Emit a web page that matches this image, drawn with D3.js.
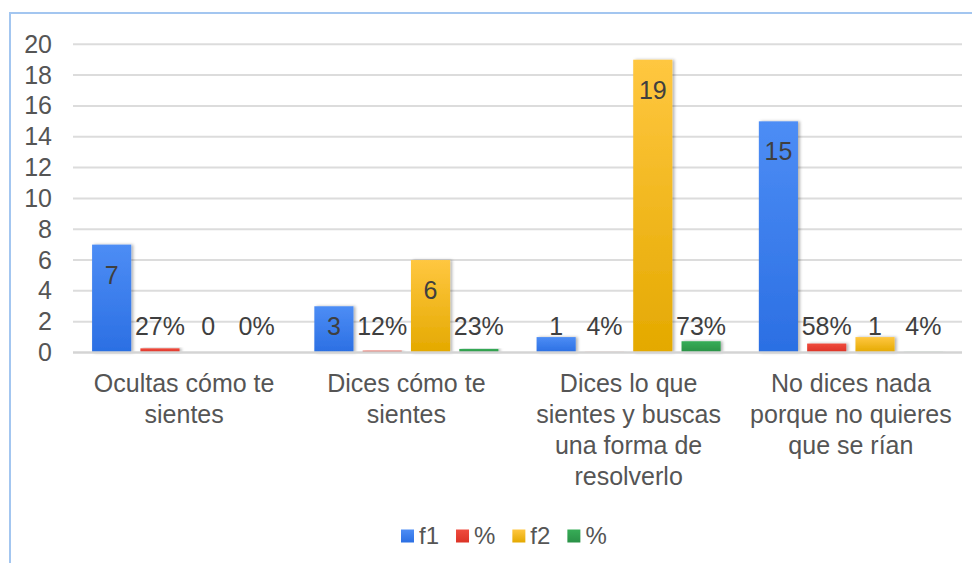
<!DOCTYPE html>
<html>
<head>
<meta charset="utf-8">
<script src="https://cdn.jsdelivr.net/npm/d3@7"></script>
<style>
  html, body { margin: 0; padding: 0; background: #fff; }
  svg { display: block; }
  text { font-family: "Liberation Sans", Arial, sans-serif; }
</style>
</head>
<body>
<svg id="chart" width="972" height="563"></svg>
<script>
const categories = [
  "Ocultas cómo te sientes",
  "Dices cómo te sientes",
  "Dices lo que sientes y buscas una forma de resolverlo",
  "No dices nada porque no quieres que se rían"
];
const seriesNames = ["f1", "%", "f2", "%"];
const f1 = [7, 3, 1, 15];
const pct1 = [0.27, 0.12, 0.04, 0.58];
const f2 = [0, 6, 19, 1];
const pct2 = [0, 0.23, 0.73, 0.04];
const yTicks = [0, 2, 4, 6, 8, 10, 12, 14, 16, 18, 20];

const seriesValues = [f1, pct1, f2, pct2];
const seriesIsPct = [false, true, false, true];
const colors = [
  ["#4d8df5", "#2b6fe3"],
  ["#ef4b3e", "#dc3326"],
  ["#ffc740", "#e4a900"],
  ["#37ad57", "#2a9147"]
];

const svg = d3.select("#chart");
const W = 972, H = 563;
const plotLeft = 73, plotRight = 962, plotTop = 44.3, plotBottom = 352.5;

// border
svg.append("path")
  .attr("d", `M10,${H} L10,13 L${W},13`)
  .attr("fill", "none")
  .attr("stroke", "#a3c6f0")
  .attr("stroke-width", 2);

const defs = svg.append("defs");
colors.forEach((c, i) => {
  const g = defs.append("linearGradient")
    .attr("id", "grad" + i).attr("x1", 0).attr("y1", 0).attr("x2", 0).attr("y2", 1);
  g.append("stop").attr("offset", "0%").attr("stop-color", c[0]);
  g.append("stop").attr("offset", "100%").attr("stop-color", c[1]);
});
const filt = defs.append("filter").attr("id", "shadow")
  .attr("x", "-20%").attr("y", "-20%").attr("width", "150%").attr("height", "140%");
filt.append("feDropShadow").attr("dx", 2).attr("dy", 0).attr("stdDeviation", 1.5)
  .attr("flood-color", "#000").attr("flood-opacity", 0.3);

const y = d3.scaleLinear().domain([0, 20]).range([plotBottom, plotTop]);
const x0 = d3.scaleBand().domain(d3.range(categories.length)).range([plotLeft, plotRight])
  .paddingInner(0).paddingOuter(0);
const x1 = d3.scaleBand().domain(d3.range(seriesNames.length)).range([0, x0.bandwidth()])
  .paddingInner(0.19).paddingOuter(0.395);

// grid lines (except baseline)
svg.append("g").selectAll("line").data(yTicks.filter(d => d !== 0)).join("line")
  .attr("x1", plotLeft).attr("x2", plotRight)
  .attr("y1", d => y(d)).attr("y2", d => y(d))
  .attr("stroke", "#dcdcdc")
  .attr("stroke-width", 2);

// y axis labels
const yAxis = d3.axisLeft(y).tickValues(yTicks).tickSize(0).tickPadding(0);
const yg = svg.append("g").attr("transform", "translate(52,0)").call(yAxis);
yg.select(".domain").remove();
yg.selectAll("text")
  .attr("font-size", 25)
  .attr("fill", "#555")
  .attr("font-family", "'Liberation Sans', Arial, sans-serif");

// bars
const bars = [];
categories.forEach((c, ci) => {
  seriesValues.forEach((vals, si) => {
    bars.push({ ci, si, v: vals[ci] });
  });
});

svg.append("g").selectAll("rect").data(bars.filter(d => d.v > 0)).join("rect")
  .attr("x", d => x0(d.ci) + x1(d.si))
  .attr("width", x1.bandwidth())
  .attr("y", d => y(d.v))
  .attr("height", d => y(0) - y(d.v))
  .attr("fill", d => `url(#grad${d.si})`)
  .attr("filter", "url(#shadow)");

// baseline drawn over bars
svg.append("line")
  .attr("x1", plotLeft).attr("x2", plotRight)
  .attr("y1", y(0)).attr("y2", y(0))
  .attr("stroke", "#d4d4d4")
  .attr("stroke-width", 2.5);

// value labels
const pctFmt = d3.format(".0%");
const labelFloor = y(0) - 17.5;
svg.append("g").selectAll("text").data(bars).join("text")
  .attr("x", d => x0(d.ci) + x1(d.si) + x1.bandwidth() / 2)
  .attr("y", d => Math.min(y(d.v) + 39, labelFloor))
  .attr("text-anchor", "middle")
  .attr("font-size", 25)
  .attr("fill", "#3f3f3f")
  .text(d => seriesIsPct[d.si] ? pctFmt(d.v) : d.v);

// x axis category labels (wrapped)
const xg = svg.append("g");
categories.forEach((c, ci) => {
  const cx = x0(ci) + x0.bandwidth() / 2;
  const t = xg.append("text")
    .attr("x", cx).attr("y", 392)
    .attr("text-anchor", "middle")
    .attr("font-size", 25)
    .attr("fill", "#555");
  const words = c.split(" ");
  let line = [];
  let tspan = t.append("tspan").attr("x", cx).attr("dy", 0);
  words.forEach(w => {
    line.push(w);
    tspan.text(line.join(" "));
    if (tspan.node().getComputedTextLength() > 212 && line.length > 1) {
      line.pop();
      tspan.text(line.join(" "));
      line = [w];
      tspan = t.append("tspan").attr("x", cx).attr("dy", 31).text(w);
    }
  });
});

// legend
const legend = svg.append("g");
let lx = 401;
seriesNames.forEach((name, i) => {
  legend.append("rect")
    .attr("x", lx).attr("y", 529.5).attr("width", 13).attr("height", 13)
    .attr("fill", `url(#grad${i})`);
  const tt = legend.append("text")
    .attr("x", lx + 18).attr("y", 544)
    .attr("font-size", 24)
    .attr("fill", "#555")
    .text(name);
  lx += 18 + tt.node().getComputedTextLength() + 17;
});
</script>
</body>
</html>
